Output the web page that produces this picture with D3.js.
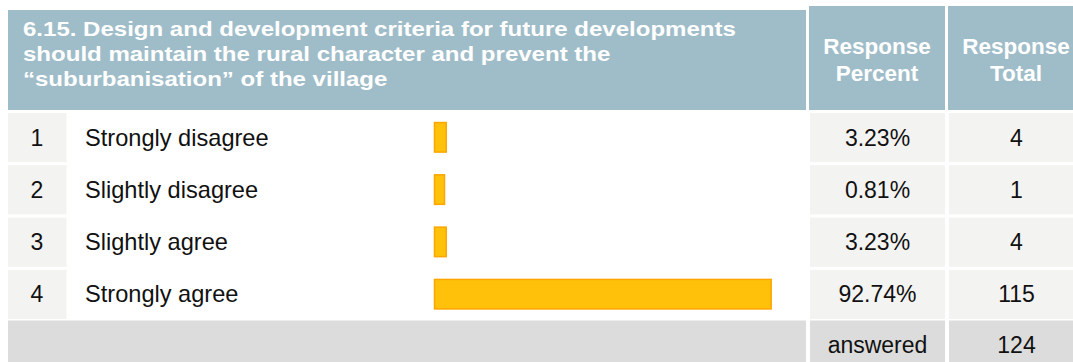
<!DOCTYPE html>
<html>
<head>
<meta charset="utf-8">
<script src="https://cdn.jsdelivr.net/npm/d3@7"></script>
<style>
  body { margin: 0; background: #fff; }
  text { font-family: "Liberation Sans", Arial, sans-serif; }
</style>
</head>
<body>
<div id="chart"></div>
<script>
// question + answers
var titleLines = ['6.15. Design and development criteria for future developments',
    'should maintain the rural character and prevent the',
    '\u201csuburbanisation\u201d of the village'];
var colHeads = [['Response', 'Percent'], ['Response', 'Total']];
var numbers = ['1', '2', '3', '4'];
var answers = ['Strongly disagree', 'Slightly disagree', 'Slightly agree', 'Strongly agree'];
var percents = [3.23, 0.81, 3.23, 92.74];
var totals = [4, 1, 4, 115];
var answeredLabel = 'answered';
var answeredTotal = 124;

var W = 1073, H = 362;
var headFill = '#9fbdc9',
    cellFill = '#f3f3f2',
    footFill = '#dcdcdc';

var svg = d3.select('#chart')
    .append('svg')
    .attr('width', W)
    .attr('height', H)

// rows
var y = d3.scaleBand()
    .domain(d3.range(answers.length))
    .range([113, 319])
    .paddingInner(0.06)
    .paddingOuter(0);

// bar scale (percent)
var x = d3.scaleLinear()
    .domain([0, 100])
    .range([0, 363]);
var barX = 434.5;

var pctX = 810, pctW = 135;
var totX = 949, totW = 135;

// ---- header ----
svg.append('rect')
    .attr('x', 8).attr('y', 10)
    .attr('width', 798).attr('height', 100)
    .attr('fill', headFill);

var title = svg.append('text')
    .attr('transform', 'translate(23,36) scale(1.19,1)')
    .attr('fill', '#fff')
    .attr('font-weight', 'bold')
    .attr('font-size', 20.2);
title.selectAll('tspan')
    .data(titleLines)
    .enter()
    .append('tspan')
    .attr('x', 0)
    .attr('y', function (d, i) { return i * 25; })
    .text(function (d) { return d; });

var heads = svg.selectAll('.colhead')
    .data(colHeads)
    .enter()
    .append('g')
    .attr('class', 'colhead')
    .attr('transform', function (d, i) {
        return 'translate(' + (i == 0 ? pctX - 1 : totX - 1) + ',6)';
    });
heads.append('rect')
    .attr('width', pctW + 1)
    .attr('height', 104)
    .attr('fill', headFill);
heads.append('text')
    .attr('text-anchor', 'middle')
    .attr('fill', '#fff')
    .attr('font-weight', 'bold')
    .attr('font-size', 22.5)
    .selectAll('tspan')
    .data(function (d) { return d; })
    .enter()
    .append('tspan')
    .attr('x', (pctW + 1) / 2)
    .attr('y', function (d, i) { return 47.5 + i * 27; })
    .text(function (d) { return d; });

// ---- answer rows ----
var rows = svg.selectAll('.row')
    .data(answers)
    .enter()
    .append('g')
    .attr('class', 'row')
    .attr('transform', function (d, i) { return 'translate(0,' + y(i) + ')'; });

var bh = y.bandwidth();

rows.append('rect')
    .attr('x', 8).attr('width', 58.5)
    .attr('height', bh)
    .attr('fill', cellFill);
rows.append('text')
    .attr('x', 37)
    .attr('y', bh / 2 + 8)
    .attr('text-anchor', 'middle')
    .attr('font-size', 23)
    .attr('fill', '#111')
    .text(function (d, i) { return numbers[i]; });
rows.append('text')
    .attr('x', 85)
    .attr('y', bh / 2 + 8)
    .attr('font-size', 23.6)
    .attr('fill', '#111')
    .text(function (d) { return d; });

rows.append('rect')
    .attr('x', barX)
    .attr('y', bh / 2 - 15)
    .attr('width', function (d, i) { return Math.max(x(percents[i]), 10); })
    .attr('height', 29.5)
    .attr('fill', '#ffc10a')
    .attr('stroke', '#ffa500')
    .attr('stroke-width', 1.5);

rows.append('rect')
    .attr('x', pctX).attr('width', pctW)
    .attr('height', bh)
    .attr('fill', cellFill);
rows.append('text')
    .attr('x', pctX + pctW / 2)
    .attr('y', bh / 2 + 8)
    .attr('text-anchor', 'middle')
    .attr('font-size', 23)
    .attr('fill', '#111')
    .text(function (d, i) { return percents[i].toFixed(2) + '%'; });

rows.append('rect')
    .attr('x', totX).attr('width', totW)
    .attr('height', bh)
    .attr('fill', cellFill);
rows.append('text')
    .attr('x', totX + totW / 2)
    .attr('y', bh / 2 + 8)
    .attr('text-anchor', 'middle')
    .attr('font-size', 23)
    .attr('fill', '#111')
    .text(function (d, i) { return totals[i]; });

// ---- answered footer ----
var footY = 320.5;
svg.append('rect')
    .attr('x', 8).attr('y', footY)
    .attr('width', 798).attr('height', H - footY)
    .attr('fill', footFill);
svg.append('rect')
    .attr('x', pctX).attr('y', footY)
    .attr('width', pctW).attr('height', H - footY)
    .attr('fill', footFill);
svg.append('rect')
    .attr('x', totX).attr('y', footY)
    .attr('width', totW).attr('height', H - footY)
    .attr('fill', footFill);
svg.append('text')
    .attr('x', pctX + pctW / 2)
    .attr('y', footY + bh / 2 + 8)
    .attr('text-anchor', 'middle')
    .attr('font-size', 23)
    .attr('fill', '#111')
    .text(answeredLabel);
svg.append('text')
    .attr('x', totX + totW / 2)
    .attr('y', footY + bh / 2 + 8)
    .attr('text-anchor', 'middle')
    .attr('font-size', 23)
    .attr('fill', '#111')
    .text(answeredTotal);
</script>
</body>
</html>
